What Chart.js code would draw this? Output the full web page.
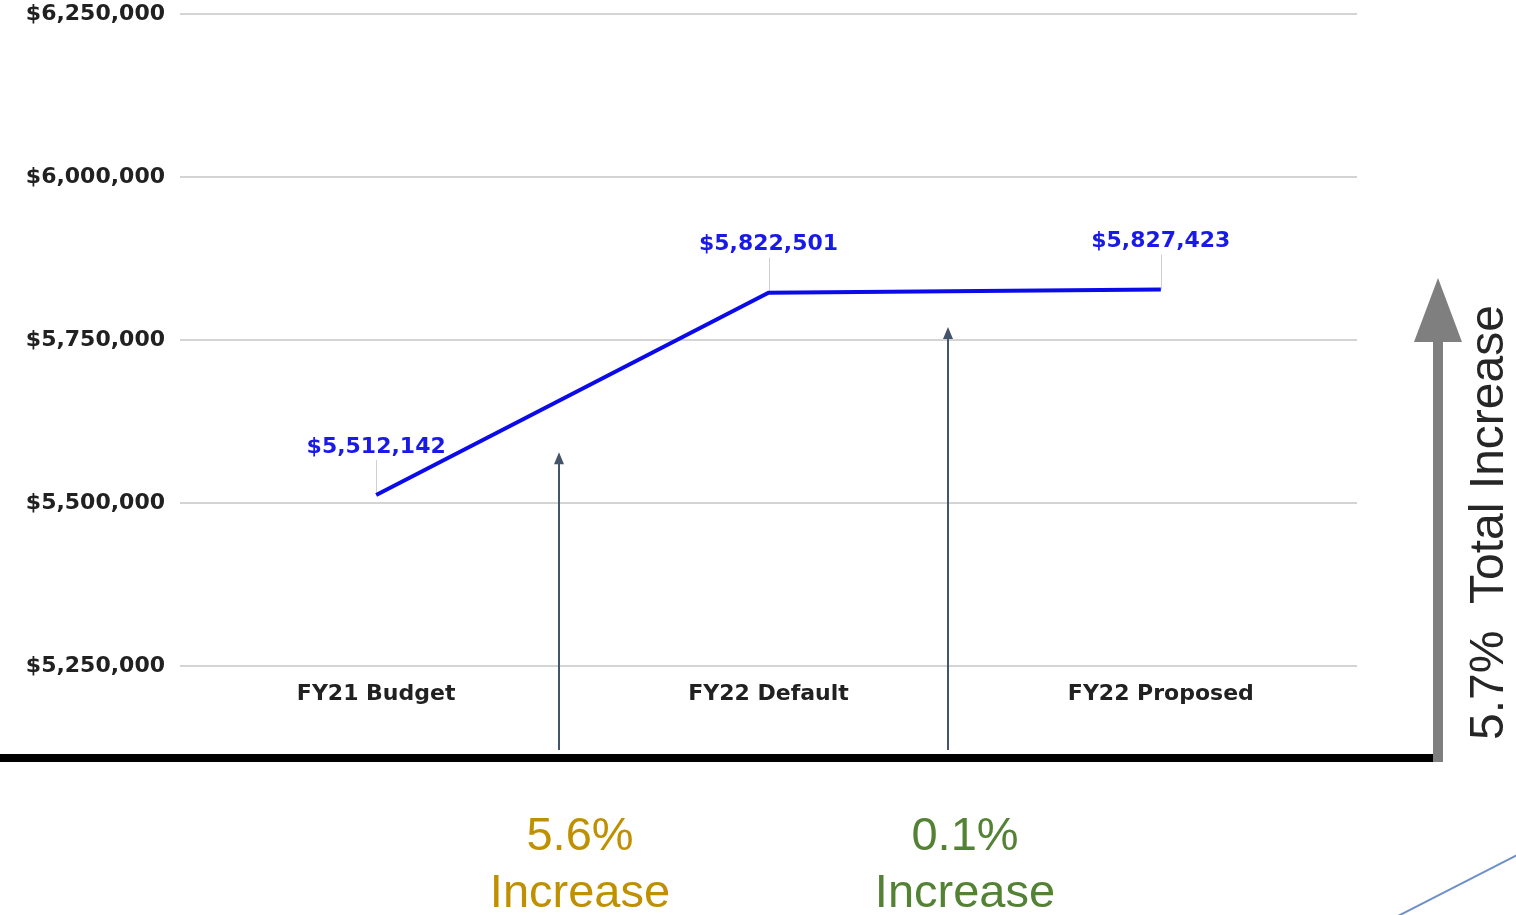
<!DOCTYPE html>
<html>
<head>
<meta charset="utf-8">
<script src="https://cdn.jsdelivr.net/npm/chart.js@4.4.1/dist/chart.umd.min.js"></script>
<style>
  html, body { margin: 0; padding: 0; background: #fff; }
  canvas { display: block; }
</style>
</head>
<body>
<canvas id="budgetChart" width="1516" height="915"></canvas>
<script>
// Budget figures
const categories = ['FY21 Budget', 'FY22 Default', 'FY22 Proposed'];
const budgetValues = [5512142, 5822501, 5827423];
const yTicks = [5250000, 5500000, 5750000, 6000000, 6250000];

// Step annotations (arrow between categories, tip value)
const stepPositions = [0.467, 1.457];
const stepTips = [5578000, 5770000];
const stepLabels = ['5.6%', '0.1%'];
const stepColors = ['#bf9000', '#548235'];
const totalLabel = '5.7%  Total Increase';

const money = v => '$' + Number(v).toLocaleString('en-US');

// value labels with a thin leader line
const valueLabels = {
  id: 'valueLabels',
  beforeDatasetsDraw(chart) {
    const ctx = chart.ctx;
    const meta = chart.getDatasetMeta(0);
    ctx.save();
    ctx.strokeStyle = '#d0d0d0';
    ctx.lineWidth = 1;
    meta.data.forEach(pt => {
      ctx.beginPath();
      ctx.moveTo(Math.round(pt.x) + 0.5, pt.y - 35);
      ctx.lineTo(Math.round(pt.x) + 0.5, pt.y);
      ctx.stroke();
    });
    ctx.restore();
  },
  afterDatasetsDraw(chart) {
    const ctx = chart.ctx;
    const meta = chart.getDatasetMeta(0);
    ctx.save();
    ctx.font = 'bold 22px "DejaVu Sans"';
    ctx.textAlign = 'center';
    ctx.textBaseline = 'middle';
    ctx.lineJoin = 'round';
    meta.data.forEach((pt, i) => {
      const txt = money(budgetValues[i]);
      ctx.strokeStyle = '#fff';
      ctx.lineWidth = 5;
      ctx.strokeText(txt, pt.x, pt.y - 48);
      ctx.fillStyle = '#1a1ae8';
      ctx.fillText(txt, pt.x, pt.y - 48);
    });
    ctx.restore();
  }
};

// arrows, base line and percentage notes
const decorations = {
  id: 'decorations',
  afterDraw(chart) {
    const ctx = chart.ctx;
    const xs = chart.scales.x;
    const ys = chart.scales.y;
    ctx.save();

    // thin slate arrows
    ctx.strokeStyle = '#44546a';
    ctx.fillStyle = '#44546a';
    ctx.lineWidth = 2;
    stepPositions.forEach((p, i) => {
      const x = Math.round(xs.getPixelForDecimal((p + 0.5) / categories.length));
      const tip = ys.getPixelForValue(stepTips[i]);
      ctx.beginPath();
      ctx.moveTo(x, 750);
      ctx.lineTo(x, tip + 10);
      ctx.stroke();
      ctx.beginPath();
      ctx.moveTo(x, tip);
      ctx.lineTo(x - 5, tip + 12);
      ctx.lineTo(x + 5, tip + 12);
      ctx.closePath();
      ctx.fill();
    });

    // black base line
    ctx.fillStyle = '#000';
    ctx.fillRect(0, 754, 1441, 8);

    // big gray arrow
    ctx.fillStyle = '#7f7f7f';
    ctx.fillRect(1433, 340, 10, 422);
    ctx.beginPath();
    ctx.moveTo(1438, 278);
    ctx.lineTo(1414, 342);
    ctx.lineTo(1462, 342);
    ctx.closePath();
    ctx.fill();

    // rotated total text
    ctx.save();
    ctx.translate(1503, 740);
    ctx.rotate(-Math.PI / 2);
    ctx.font = '48px "Liberation Sans"';
    ctx.fillStyle = '#262626';
    ctx.textAlign = 'left';
    ctx.textBaseline = 'alphabetic';
    ctx.fillText(totalLabel, 0, 0);
    ctx.restore();

    // step percentages
    ctx.font = '47px "Liberation Sans"';
    ctx.textAlign = 'center';
    ctx.textBaseline = 'alphabetic';
    const centers = [580, 965];
    stepLabels.forEach((t, i) => {
      ctx.fillStyle = stepColors[i];
      ctx.fillText(t, centers[i], 850);
      ctx.fillText('Increase', centers[i], 907);
    });

    // corner accent line
    ctx.strokeStyle = '#7090c8';
    ctx.lineWidth = 2;
    ctx.beginPath();
    ctx.moveTo(1398, 916);
    ctx.lineTo(1517, 855);
    ctx.stroke();

    ctx.restore();
  }
};

new Chart(document.getElementById('budgetChart'), {
  type: 'line',
  data: {
    labels: categories,
    datasets: [{
      data: budgetValues,
      borderColor: '#0b0bea',
      borderWidth: 4,
      tension: 0,
      pointRadius: 0,
      fill: false
    }]
  },
  options: {
    responsive: false,
    devicePixelRatio: 1,
    animation: false,
    layout: { padding: { top: 0, right: 159, bottom: 0, left: 0 } },
    plugins: {
      legend: { display: false },
      tooltip: { enabled: false }
    },
    scales: {
      x: {
        offset: true,
        grid: { display: false, drawTicks: false },
        border: { display: false },
        ticks: {
          color: '#212121',
          padding: 15,
          font: { family: '"DejaVu Sans"', size: 22, weight: 'bold' }
        },
        afterFit: scale => { scale.height = 249; }
      },
      y: {
        min: yTicks[0],
        max: yTicks[yTicks.length - 1],
        afterBuildTicks: scale => { scale.ticks = yTicks.map(v => ({ value: v })); },
        grid: { color: '#d4d4d4', lineWidth: 2, drawTicks: false },
        border: { display: false },
        ticks: {
          color: '#212121',
          padding: 15,
          font: { family: '"DejaVu Sans"', size: 22, weight: 'bold' },
          callback: v => money(v)
        },
        afterFit: scale => {
          scale.width = 180;
          scale.paddingTop = 14;
          scale.paddingBottom = 0;
        }
      }
    }
  },
  plugins: [valueLabels, decorations]
});
</script>
</body>
</html>
